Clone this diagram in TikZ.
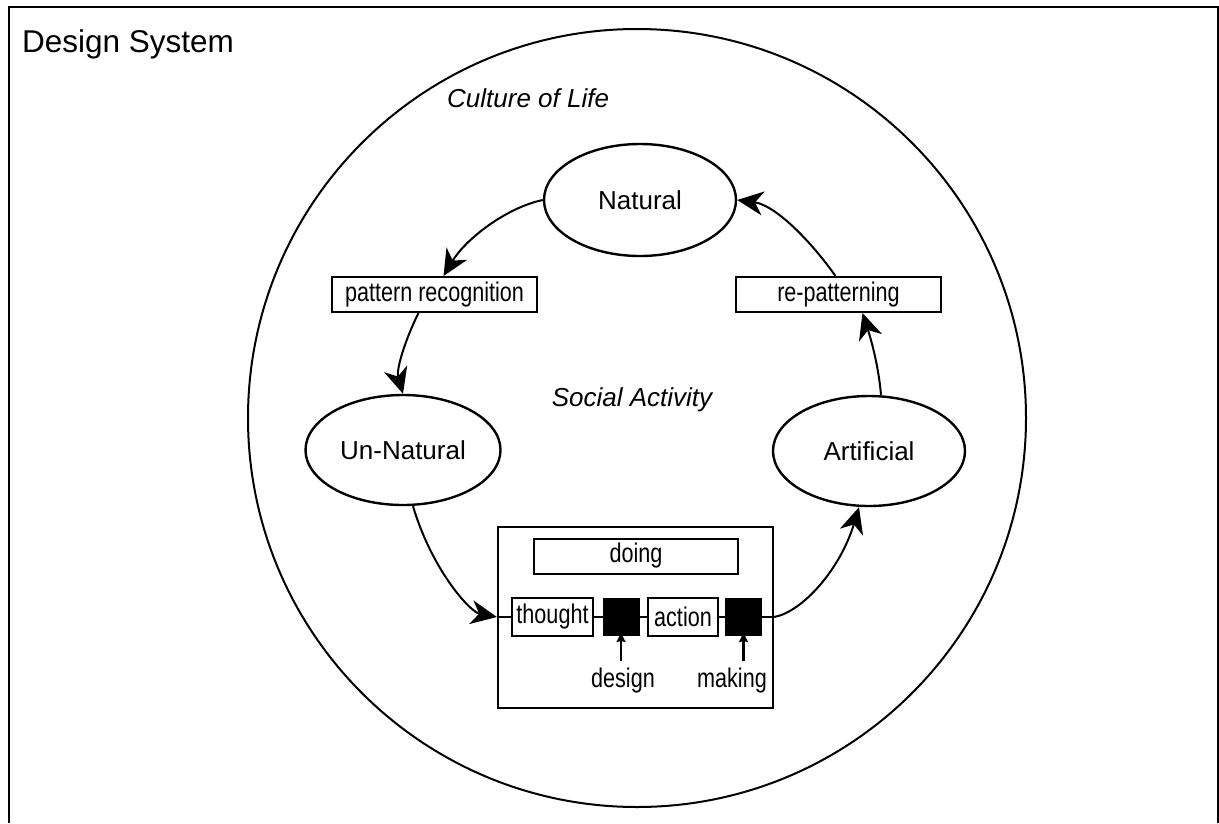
\documentclass[tikz,border=0pt]{standalone}
\usepackage{fontspec}
\setmainfont{Liberation Sans}
\newfontfamily\narrowfont[FakeStretch=0.8]{Liberation Sans}
\usetikzlibrary{shapes.geometric,arrows.meta}
\begin{document}
\begin{tikzpicture}[x=1pt,y=-1pt,
  oval/.style={ellipse,draw,line width=2.4pt,inner sep=0pt,font=\fontsize{26}{30}\selectfont},
  label box/.style={rectangle,draw,line width=2pt,inner sep=0pt,font=\narrowfont\fontsize{27}{30}\selectfont},
  blackbox/.style={rectangle,draw,fill=black,line width=1pt,inner sep=0pt,minimum width=36pt,minimum height=37pt},
  flow/.style={line width=2pt,-{Stealth[length=26pt,width=24pt,inset=8pt]}},
  pointer/.style={line width=2.2pt,-{Stealth[length=9pt,width=9pt,inset=1pt]}},
  small text/.style={font=\narrowfont\fontsize{27}{30}\selectfont,inner sep=0pt},
  free text/.style={font=\fontsize{26}{30}\selectfont,inner sep=0pt}]
\useasboundingbox (0,0) rectangle (1219,823);
\fill[white] (0,0) rectangle (1219,823);

% outer frame, open at the bottom
\draw[line width=2.2pt] (9,823) -- (9,7) -- (1218,7) -- (1218,823);
\node[anchor=base west,inner sep=0pt,font=\fontsize{31.5}{36}\selectfont] (title) at (22,52) {Design System};

% culture boundary
\draw[line width=2pt] (637,418) circle[radius=389pt];
\node[free text,anchor=base west] (culture) at (447,107) {\itshape Culture of Life};
\node[free text] (social) at (632,400) {\itshape Social Activity};

% states of the cycle
\node[oval,minimum width=192pt,minimum height=112pt] (nat) at (640,200) {Natural};
\node[oval,minimum width=195pt,minimum height=110pt] (unnat) at (403,450) {Un-Natural};
\node[oval,minimum width=192pt,minimum height=110pt] (art) at (869,451) {Artificial};

% transitions
\node[label box,minimum width=205pt,minimum height=35pt] (pr) at (434.5,294.5) {pattern recognition};
\node[label box,minimum width=205pt,minimum height=35pt] (rp) at (838.5,294.5) {re-patterning};

% doing block
\node[rectangle,draw,line width=2.2pt,minimum width=275pt,minimum height=181pt,inner sep=0pt] (doingbox) at (635.5,617.5) {};
\node[label box,minimum width=204pt,minimum height=35pt] (doing) at (636,556) {doing};
\node[label box,minimum width=81pt,minimum height=38pt] (thought) at (552.5,617) {thought};
\node[blackbox] (sqa) at (621,617) {};
\node[label box,minimum width=70pt,minimum height=38pt] (action) at (683,617) {action};
\node[blackbox] (sqb) at (743.5,617) {};
\coordinate (inL) at (doingbox.west |- thought.west);
\coordinate (outR) at (doingbox.east |- sqb.east);
\draw[line width=2pt] (inL) -- (thought.west)
  (thought.east) -- (sqa.west) (sqa.east) -- (action.west)
  (action.east) -- (sqb.west) (sqb.east) -- (outR);

\node[small text] (design) at (623,681) {design};
\node[small text] (making) at (732,681) {making};
\coordinate (da) at (621,661);
\coordinate (ma) at (743.5,661);
\draw[pointer] (da) -- ([yshift=3pt]sqa.south);
\draw[pointer] (ma) -- ([yshift=3pt]sqb.south);

% cycle arrows
\draw[flow] (nat.west) .. controls (505,208) and (465,240) .. ([xshift=9pt]pr.north);
\draw[flow] ([xshift=-16pt]pr.south) .. controls (405,340) and (396,370) .. (unnat.north);
\draw[flow] ([xshift=10pt]unnat.south) .. controls (432,570) and (470,612) .. (inL);
\draw[flow] (outR) .. controls (802,612) and (840,570) .. ([xshift=-10pt]art.south);
\draw[flow] ([xshift=12pt]art.north) .. controls (878,360) and (868,330) .. ([xshift=24pt]rp.south);
\draw[flow] ([xshift=-3pt]rp.north) .. controls (810,240) and (775,205) .. (nat.east);
\end{tikzpicture}
\end{document}
